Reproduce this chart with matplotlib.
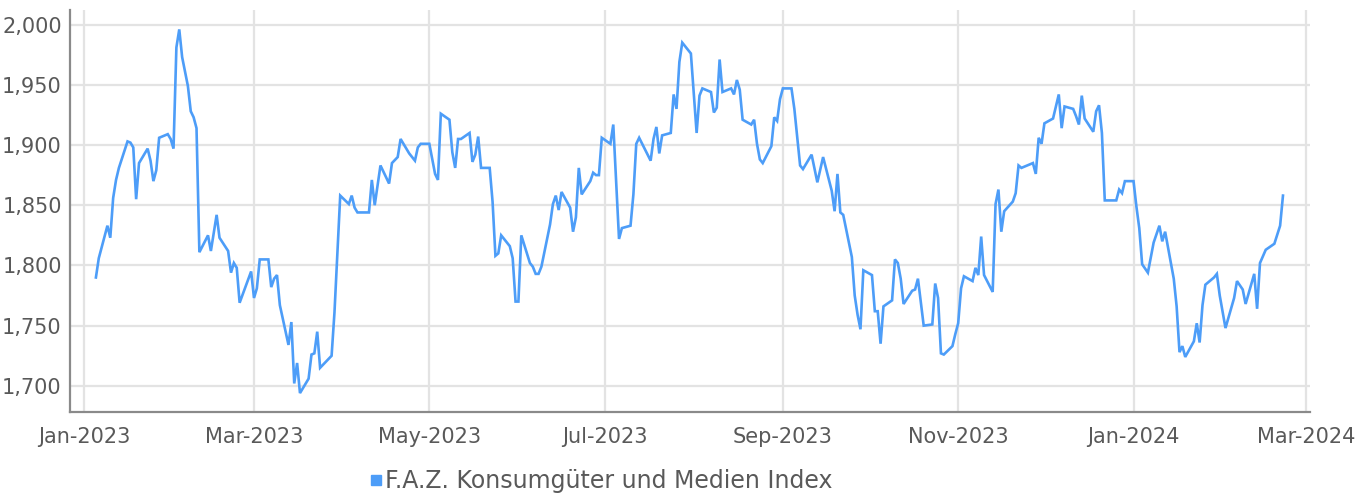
import matplotlib
matplotlib.use('Agg')
import matplotlib.pyplot as plt
import matplotlib.dates as mdates
import matplotlib.ticker as mticker
from matplotlib.lines import Line2D
import pandas as pd

# Tage seit 01.01.2023 und Indexstand
tage = [4, 5, 8, 9, 10, 11, 12, 15, 16, 17, 18, 19, 22, 23, 24, 25, 26, 29, 30, 31,
        32, 33, 34, 36, 37, 38, 39, 40, 43, 44, 46, 47, 50, 51, 52, 53, 54, 58, 59, 60,
        61, 64, 65, 66, 67, 68, 71, 72, 73, 74, 75, 78, 79, 80, 81, 82, 86, 87, 89, 92,
        93, 94, 95, 99, 100, 101, 103, 106, 107, 109, 110, 113, 115, 116, 117, 120, 122, 123, 124, 127,
        128, 129, 130, 131, 134, 135, 136, 137, 138, 141, 142, 143, 144, 145, 148, 149, 150, 151, 152, 155,
        156, 157, 158, 159, 162, 163, 164, 165, 166, 169, 170, 171, 172, 173, 176, 177, 178, 179, 180, 183,
        184, 186, 187, 190, 191, 192, 193, 197, 198, 199, 200, 201, 204, 205, 206, 207, 208, 211, 213, 214,
        215, 218, 219, 220, 221, 222, 225, 226, 227, 228, 229, 232, 233, 234, 235, 236, 239, 240, 241, 242,
        243, 246, 247, 249, 250, 253, 255, 257, 260, 261, 262, 263, 264, 267, 268, 269, 270, 271, 274, 275,
        276, 277, 278, 281, 282, 283, 284, 285, 288, 289, 290, 292, 295, 296, 297, 298, 299, 302, 303, 304,
        305, 306, 309, 310, 311, 312, 313, 316, 317, 318, 319, 320, 323, 324, 325, 326, 330, 331, 332, 333,
        334, 337, 339, 340, 341, 344, 345, 346, 347, 348, 351, 352, 353, 354, 355, 359, 360, 361, 362, 365,
        366, 367, 368, 370, 372, 374, 375, 376, 379, 380, 381, 382, 383, 386, 387, 388, 389, 390, 393, 394,
        395, 397, 400, 401, 403, 404, 407, 408, 409, 411, 414, 416, 417]
werte = [1790, 1806, 1833, 1823, 1856, 1871, 1881, 1903, 1902, 1898, 1855, 1885, 1897, 1887, 1870, 1879, 1906, 1909, 1905, 1897,
         1981, 1996, 1973, 1949, 1928, 1923, 1914, 1811, 1825, 1812, 1842, 1823, 1812, 1794, 1802, 1798, 1769, 1795, 1773, 1781,
         1805, 1805, 1782, 1789, 1792, 1767, 1734, 1753, 1702, 1719, 1694, 1706, 1726, 1727, 1745, 1715, 1725, 1761, 1858, 1851,
         1858, 1848, 1844, 1844, 1871, 1850, 1883, 1868, 1885, 1890, 1905, 1893, 1887, 1898, 1901, 1901, 1876, 1871, 1926, 1921,
         1894, 1881, 1905, 1905, 1910, 1886, 1892, 1907, 1881, 1881, 1853, 1808, 1810, 1825, 1816, 1806, 1770, 1770, 1825, 1802,
         1799, 1793, 1793, 1799, 1834, 1851, 1858, 1846, 1861, 1848, 1828, 1840, 1881, 1859, 1870, 1877, 1875, 1875, 1906, 1901,
         1917, 1822, 1831, 1833, 1859, 1901, 1906, 1887, 1905, 1915, 1893, 1908, 1910, 1942, 1930, 1969, 1985, 1976, 1910, 1941,
         1947, 1944, 1927, 1931, 1971, 1944, 1947, 1942, 1954, 1946, 1921, 1917, 1921, 1901, 1888, 1885, 1899, 1923, 1920, 1938,
         1947, 1947, 1930, 1883, 1880, 1892, 1869, 1890, 1862, 1845, 1876, 1844, 1842, 1807, 1775, 1759, 1747, 1796, 1792, 1762,
         1762, 1735, 1766, 1771, 1805, 1802, 1789, 1768, 1779, 1780, 1789, 1750, 1751, 1785, 1773, 1727, 1726, 1733, 1743, 1752,
         1781, 1791, 1787, 1798, 1792, 1824, 1792, 1778, 1851, 1863, 1828, 1845, 1853, 1860, 1883, 1881, 1885, 1876, 1906, 1901,
         1918, 1922, 1942, 1914, 1932, 1930, 1924, 1917, 1941, 1922, 1911, 1928, 1933, 1910, 1854, 1854, 1863, 1860, 1870, 1870,
         1849, 1831, 1801, 1794, 1819, 1833, 1820, 1828, 1789, 1766, 1728, 1733, 1724, 1737, 1752, 1736, 1767, 1784, 1790, 1793,
         1775, 1748, 1773, 1787, 1780, 1768, 1793, 1764, 1802, 1813, 1818, 1833, 1858]
y_ticks = [1700, 1750, 1800, 1850, 1900, 1950, 2000]
serie_name = 'F.A.Z. Konsumgüter und Medien Index'

start = pd.Timestamp('2023-01-01')
datum = start + pd.to_timedelta(tage, unit='D')

plt.rcParams['font.family'] = ['DejaVu Sans']
cor_linha = '#4d9df8'
cor_texto = '#595959'
cor_grid = '#e3e3e3'

fig = plt.figure(figsize=(13.68, 4.93), dpi=100)
ax = fig.add_axes([0.0512, 0.1643, 0.9064, 0.8154])

ax.plot(datum, werte, color=cor_linha, linewidth=1.9, solid_joinstyle='miter')

ax.set_xlim(start - pd.Timedelta(days=5), start + pd.Timedelta(days=426.4))
ax.set_ylim(1678.3, 2012.1)
ax.set_yticks(y_ticks)
ax.yaxis.set_major_formatter(mticker.StrMethodFormatter('{x:,.0f}'))
ax.xaxis.set_major_locator(mdates.MonthLocator(bymonth=[1, 3, 5, 7, 9, 11]))
ax.xaxis.set_major_formatter(mdates.DateFormatter('%b-%Y'))

ax.grid(True, color=cor_grid, linewidth=1.6)
ax.set_axisbelow(True)
for s in ['top', 'right']:
    ax.spines[s].set_visible(False)
for s in ['left', 'bottom']:
    ax.spines[s].set_color('#8a8a8a')
    ax.spines[s].set_linewidth(1.6)
ax.tick_params(axis='both', length=0, labelsize=15, colors=cor_texto)
ax.tick_params(axis='x', pad=11)
ax.tick_params(axis='y', pad=6)

handle = Line2D([], [], marker='s', linestyle='none', color=cor_linha, markersize=7)
fig.legend([handle], [serie_name], loc='center', bbox_to_anchor=(0.4385, 0.024),
           frameon=False, fontsize=17, handletextpad=0.05, labelcolor=cor_texto,
           handlelength=0.7)

fig.savefig('out.png', dpi=100)
